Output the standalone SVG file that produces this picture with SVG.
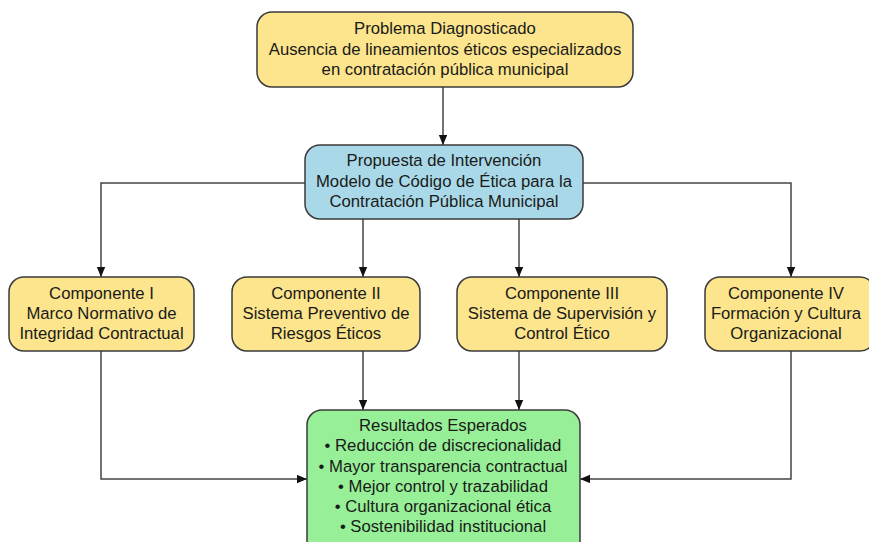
<svg xmlns="http://www.w3.org/2000/svg" width="869" height="542" viewBox="0 0 869 542">
<defs>
<marker id="ah" viewBox="0 0 10 12" refX="12" refY="5" markerWidth="12" markerHeight="10" markerUnits="userSpaceOnUse" orient="auto">
<path d="M0,0 L12,5 L0,10 z" fill="#111"/>
</marker>
<style>
.box{stroke:#3a3a3a;stroke-width:1.5}
.y{fill:#fce58c}
.b{fill:#a9d9e8}
.g{fill:#97f097}
text{font-family:"Liberation Sans",Arial,sans-serif;font-size:16.7px;fill:#1a1a1a;text-anchor:middle}
.c{fill:none;stroke:#444;stroke-width:1.5;marker-end:url(#ah)}
</style>
</defs>
<rect width="869" height="542" fill="#fff"/>
<g id="connectors">
<path class="c" d="M443,87 V145"/>
<path class="c" d="M305,183 H101 V277"/>
<path class="c" d="M583,183 H791 V277"/>
<path class="c" d="M363,219 V277"/>
<path class="c" d="M519,219 V277"/>
<path class="c" d="M363,351 V410"/>
<path class="c" d="M519,351 V410"/>
<path class="c" d="M101,351 V479 H307"/>
<path class="c" d="M791,351 V479 H580"/>
</g>
<g id="problema">
<rect class="box y" x="257" y="12" width="376" height="75" rx="15"/>
<text x="445" y="34">Problema Diagnosticado</text>
<text x="445" y="55">Ausencia de lineamientos éticos especializados</text>
<text x="445" y="75">en contratación pública municipal</text>
</g>
<g id="propuesta">
<rect class="box b" x="305" y="145" width="278" height="74" rx="15"/>
<text x="444" y="166">Propuesta de Intervención</text>
<text x="444" y="187">Modelo de Código de Ética para la</text>
<text x="444" y="207">Contratación Pública Municipal</text>
</g>
<g id="comp1">
<rect class="box y" x="9" y="277" width="185" height="74" rx="15"/>
<text x="101.5" y="299">Componente I</text>
<text x="101.5" y="319">Marco Normativo de</text>
<text x="101.5" y="339">Integridad Contractual</text>
</g>
<g id="comp2">
<rect class="box y" x="232" y="277" width="188" height="74" rx="15"/>
<text x="326" y="299">Componente II</text>
<text x="326" y="319">Sistema Preventivo de</text>
<text x="326" y="339">Riesgos Éticos</text>
</g>
<g id="comp3">
<rect class="box y" x="457" y="277" width="210" height="74" rx="15"/>
<text x="562" y="299">Componente III</text>
<text x="562" y="319">Sistema de Supervisión y</text>
<text x="562" y="339">Control Ético</text>
</g>
<g id="comp4">
<rect class="box y" x="705" y="277" width="170" height="74" rx="15"/>
<text x="786" y="299">Componente IV</text>
<text x="786" y="319">Formación y Cultura</text>
<text x="786" y="339">Organizacional</text>
</g>
<g id="resultados">
<rect class="box g" x="307" y="410" width="273" height="150" rx="15"/>
<text x="443" y="431">Resultados Esperados</text>
<text x="443" y="451">• Reducción de discrecionalidad</text>
<text x="443" y="472">• Mayor transparencia contractual</text>
<text x="443" y="492">• Mejor control y trazabilidad</text>
<text x="443" y="512">• Cultura organizacional ética</text>
<text x="443" y="532">• Sostenibilidad institucional</text>
</g>
</svg>
